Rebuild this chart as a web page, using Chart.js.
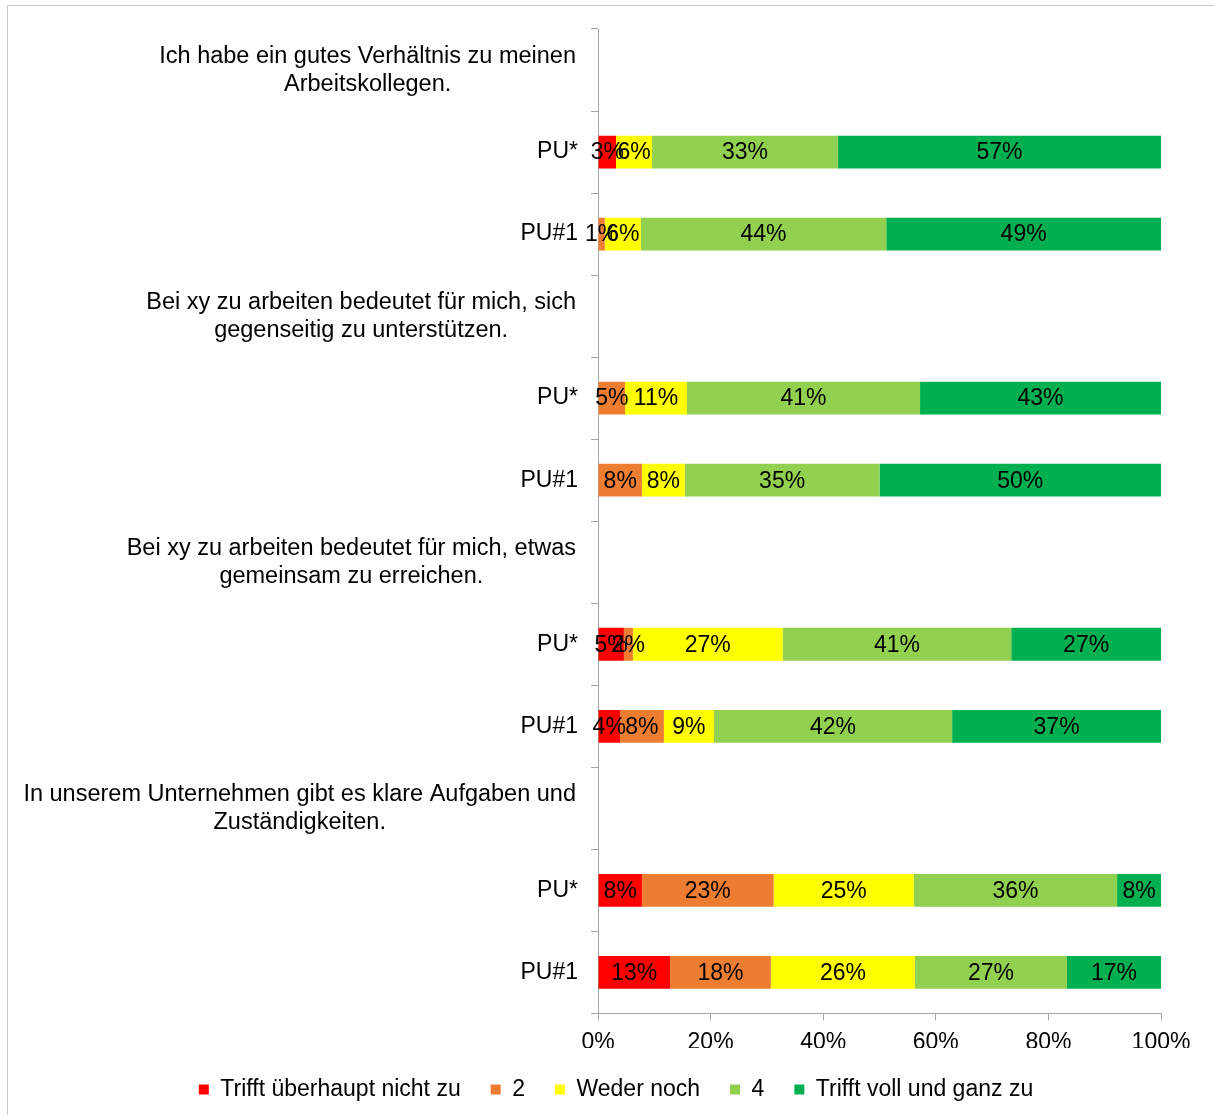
<!DOCTYPE html>
<html>
<head>
<meta charset="utf-8">
<script src="https://cdn.jsdelivr.net/npm/chart.js@4/dist/chart.umd.min.js"></script>
<style>
	html, body { margin: 0; padding: 0; background: #fff; }
	#wrap { position: relative; width: 1214px; height: 1115px; }
	#frame { position: absolute; left: 7px; top: 5px; right: 0; bottom: 0;
		border-left: 1px solid #c8c8c8; border-top: 1px solid #c8c8c8; pointer-events: none; }
</style>
</head>
<body>
<div id="wrap">
	<canvas id="chart" width="1214" height="1115"></canvas>
	<div id="frame"></div>
</div>
<script>
const questions = [
	['Ich habe ein gutes Verhältnis zu meinen', 'Arbeitskollegen.'],
	['Bei xy zu arbeiten bedeutet für mich, sich', 'gegenseitig zu unterstützen.'],
	['Bei xy zu arbeiten bedeutet für mich, etwas', 'gemeinsam zu erreichen.'],
	['In unserem Unternehmen gibt es klare Aufgaben und', 'Zuständigkeiten.']
];
const groups = ['PU*', 'PU#1'];

const answers = ['Trifft überhaupt nicht zu', '2', 'Weder noch', '4', 'Trifft voll und ganz zu'];
const colors = ['#FF0000', '#ED7D31', '#FFFF00', '#92D050', '#00B050'];

// shares in %, one entry per bar (PU*, PU#1 for each question)
const notAtAll = [3.2, 0, 0, 0, 4.6, 3.9, 7.8, 12.8];
const two      = [0, 1.2, 4.8, 7.8, 1.6, 7.8, 23.4, 17.9];
const neither  = [6.4, 6.4, 11.0, 7.6, 26.6, 8.9, 24.9, 25.6];
const four     = [33.0, 43.6, 41.4, 34.6, 40.6, 42.3, 36.1, 27.0];
const fully    = [57.4, 48.8, 42.8, 50.0, 26.6, 37.1, 7.8, 16.7];

const xTicks = [0, 20, 40, 60, 80, 100];

const FONT = 'Liberation Sans, Arial, sans-serif';
const SIZE = 23;

// rows: question header, then one row per group
let rows = [];
let isQuestion = [];
questions.forEach((q) => {
	rows.push(q.join(' '));
	isQuestion.push(true);
	groups.forEach((g) => { rows.push(g); isQuestion.push(false); });
});

function expand(values) {
	let out = [];
	let k = 0;
	isQuestion.forEach((qRow) => {
		if (qRow) { out.push(null); }
		else { out.push(values[k] ? values[k] : null); k++; }
	});
	return out;
}

const series = [notAtAll, two, neither, four, fully];

const barLabels = {
	id: 'barLabels',
	afterDatasetsDraw(chart) {
		const ctx = chart.ctx;
		ctx.save();
		ctx.font = SIZE + 'px ' + FONT;
		ctx.fillStyle = '#000';
		ctx.textAlign = 'center';
		ctx.textBaseline = 'middle';
		chart.data.datasets.forEach((ds, i) => {
			const meta = chart.getDatasetMeta(i);
			meta.data.forEach((bar, j) => {
				const v = ds.data[j];
				if (!v) return;
				ctx.fillText(Math.round(v) + '%', (bar.x + bar.base) / 2, bar.y + 1);
			});
		});
		ctx.restore();
	}
};

// question texts above each group, lines centred on each other
const questionLabels = {
	id: 'questionLabels',
	afterDraw(chart) {
		const ctx = chart.ctx;
		const y = chart.scales.y;
		const right = y.right - 22;
		ctx.save();
		ctx.font = '23.5px ' + FONT;
		ctx.fillStyle = '#000';
		ctx.textAlign = 'center';
		ctx.textBaseline = 'middle';
		questions.forEach((lines, q) => {
			const row = q * (groups.length + 1);
			const cy = y.getPixelForValue(row);
			const maxW = Math.max(...lines.map((l) => ctx.measureText(l).width));
			const cx = right - maxW / 2;
			lines.forEach((l, i) => {
				ctx.fillText(l, cx, cy + (i - (lines.length - 1) / 2) * 28);
			});
		});
		ctx.restore();
	}
};

// centre the legend on the whole canvas, not just the padded box
const legendShift = {
	id: 'legendShift',
	afterLayout(chart) {
		const lg = chart.legend;
		lg.left = 0;
		lg.right = 1232;
		lg.width = 1232;
	}
};

Chart.defaults.font.family = FONT;
Chart.defaults.font.size = SIZE;
Chart.defaults.color = '#000';

new Chart(document.getElementById('chart').getContext('2d'), {
	type: 'bar',
	data: {
		labels: rows,
		datasets: answers.map((a, i) => ({
			label: a,
			data: expand(series[i]),
			backgroundColor: colors[i],
			borderWidth: 0,
			barPercentage: 0.4,
			categoryPercentage: 1
		}))
	},
	options: {
		indexAxis: 'y',
		responsive: false,
		animation: false,
		layout: { padding: { left: 0, right: 53, top: 29, bottom: 4 } },
		scales: {
			x: {
				stacked: true,
				min: 0,
				max: 100,
				afterBuildTicks(scale) { scale.ticks = xTicks.map((v) => ({ value: v })); },
				afterFit(scale) { scale.height = scale.height - 16; },
				ticks: { callback: (v) => v + '%', padding: 8, maxRotation: 0 },
				grid: { drawOnChartArea: false, tickLength: 7, color: '#a6a6a6' },
				border: { color: '#a6a6a6' }
			},
			y: {
				stacked: true,
				afterFit(scale) { scale.width = 598; },
				ticks: {
					padding: 13,
					callback: function(v, i) { return isQuestion[i] ? '' : this.getLabelForValue(v); }
				},
				grid: { drawOnChartArea: false, tickLength: 7, color: '#a6a6a6', offset: true },
				border: { color: '#a6a6a6' }
			}
		},
		plugins: {
			tooltip: { enabled: false },
			legend: {
				position: 'bottom',
				labels: { boxWidth: 10, boxHeight: 10, padding: 30, color: '#000' }
			}
		}
	},
	plugins: [barLabels, questionLabels, legendShift]
});
</script>
</body>
</html>
